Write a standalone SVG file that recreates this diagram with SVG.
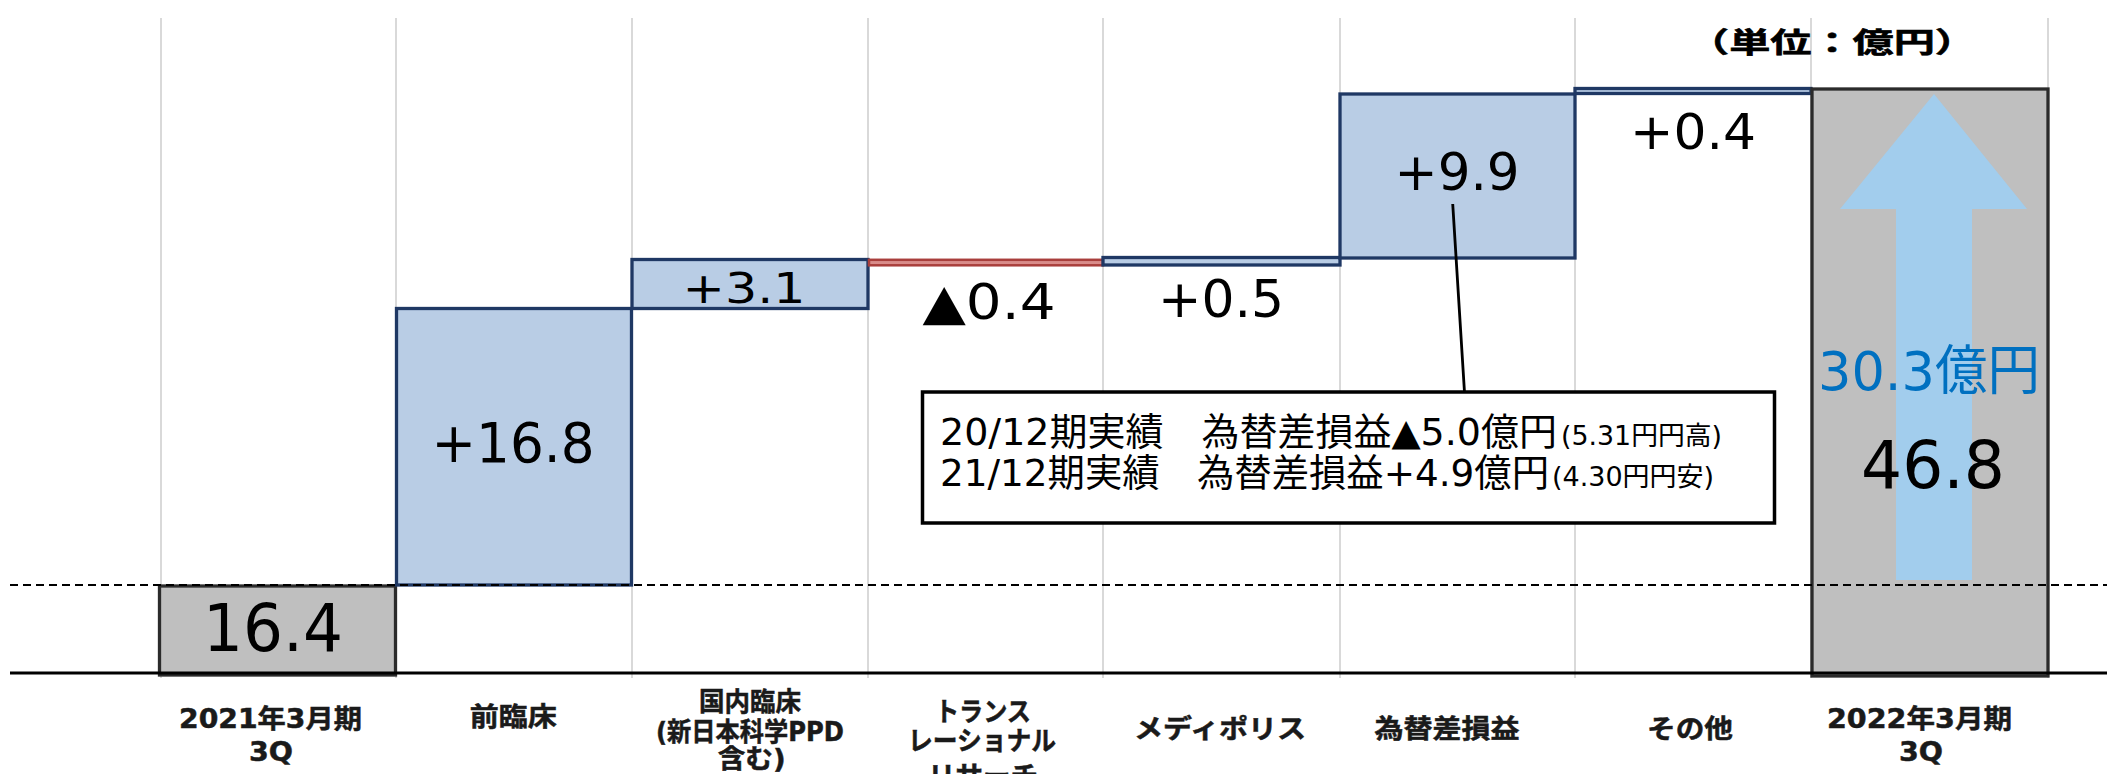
<svg xmlns="http://www.w3.org/2000/svg" width="2107" height="774" viewBox="0 0 2107 774">
<style>
.grid{stroke:#D9D9D9;stroke-width:2}
.blue{fill:#B9CDE5;stroke:#1F3864;stroke-width:3.3}
.gray{fill:#BFBFBF;stroke:#2B2B2B;stroke-width:3.3}
.num{font-family:"DejaVu Sans","Noto Sans CJK JP",sans-serif;fill:#000;text-anchor:middle}
.lbl{font-family:"DejaVu Sans","Noto Sans CJK JP",sans-serif;font-weight:bold;font-size:26.5px;fill:#1A1A1A;stroke:#1A1A1A;stroke-width:0.5;text-anchor:middle}
.note{font-family:"DejaVu Sans","Noto Sans CJK JP",sans-serif;fill:#000}
</style>
<rect width="2107" height="774" fill="#FFFFFF"/>
<g id="gridlines">
<line class="grid" x1="161" y1="18" x2="161" y2="678"/>
<line class="grid" x1="396" y1="18" x2="396" y2="678"/>
<line class="grid" x1="632" y1="18" x2="632" y2="678"/>
<line class="grid" x1="868" y1="18" x2="868" y2="678"/>
<line class="grid" x1="1103" y1="18" x2="1103" y2="678"/>
<line class="grid" x1="1340" y1="18" x2="1340" y2="678"/>
<line class="grid" x1="1575" y1="18" x2="1575" y2="678"/>
<line class="grid" x1="1811" y1="18" x2="1811" y2="678"/>
<line class="grid" x1="2048" y1="18" x2="2048" y2="678"/>
</g>
<g id="bar-start">
<rect class="gray" x="159.5" y="586" width="236" height="89"/>
<text class="num" x="273" y="651" font-size="66" textLength="140" lengthAdjust="spacingAndGlyphs">16.4</text>
</g>
<g id="bar-preclinical">
<rect class="blue" x="396.5" y="308.5" width="235" height="276.5"/>
<text class="num" x="513" y="462" font-size="56" textLength="163" lengthAdjust="spacingAndGlyphs">+16.8</text>
</g>
<g id="bar-domestic">
<rect class="blue" x="632" y="259.5" width="236" height="49"/>
<text class="num" x="744" y="302.5" font-size="42" textLength="123" lengthAdjust="spacingAndGlyphs">+3.1</text>
</g>
<g id="bar-translational">
<rect x="869" y="259.8" width="234" height="5.5" fill="#D98C8A" stroke="#A93F3C" stroke-width="2.5"/>
<text class="num" x="989" y="319" font-size="50" textLength="133" lengthAdjust="spacingAndGlyphs">▲0.4</text>
</g>
<g id="bar-medipolis">
<rect class="blue" x="1103" y="257.5" width="237" height="7.5"/>
<text class="num" x="1221" y="316.5" font-size="52" textLength="126" lengthAdjust="spacingAndGlyphs">+0.5</text>
</g>
<g id="bar-fx">
<rect class="blue" x="1340" y="94" width="235" height="164"/>
<text class="num" x="1457" y="190" font-size="52" textLength="125" lengthAdjust="spacingAndGlyphs">+9.9</text>
</g>
<g id="bar-other">
<rect class="blue" x="1575" y="88.5" width="236" height="5"/>
<text class="num" x="1693" y="149" font-size="50" textLength="126" lengthAdjust="spacingAndGlyphs">+0.4</text>
</g>
<g id="bar-end">
<rect class="gray" x="1812" y="89" width="236" height="587"/>
<polygon points="1934,94 2027,209 1972,209 1972,580 1896,580 1896,209 1840,209" fill="#A2CDED"/>
<text class="num" x="1929" y="390" font-size="54" style="fill:#0070C0" textLength="222" lengthAdjust="spacingAndGlyphs">30.3億円</text>
<text class="num" x="1933" y="488" font-size="66" textLength="144" lengthAdjust="spacingAndGlyphs">46.8</text>
</g>
<g id="axes">
<line x1="10" y1="585" x2="2107" y2="585" stroke="#000" stroke-width="2" stroke-dasharray="8 5"/>
<line x1="10" y1="673" x2="2107" y2="673" stroke="#000" stroke-width="3"/>
</g>
<g id="connectors">
<line x1="1452.7" y1="204" x2="1464.5" y2="392" stroke="#000" stroke-width="2.8"/>
</g>
<g id="note-box">
<rect x="922.5" y="392" width="852" height="131" fill="#FFFFFF" stroke="#000" stroke-width="3.5"/>
<text class="note" x="940" y="445" font-size="37.5" textLength="617" lengthAdjust="spacingAndGlyphs">20/12期実績　為替差損益▲5.0億円</text>
<text class="note" x="1561" y="445" font-size="26.5" textLength="161" lengthAdjust="spacingAndGlyphs">(5.31円円高)</text>
<text class="note" x="940" y="486" font-size="37.5" textLength="609" lengthAdjust="spacingAndGlyphs">21/12期実績　為替差損益+4.9億円</text>
<text class="note" x="1552" y="486" font-size="26.5" textLength="162" lengthAdjust="spacingAndGlyphs">(4.30円円安)</text>
</g>
<g id="unit-label">
<text x="1832" y="53" font-family="Noto Sans CJK JP,sans-serif" font-weight="bold" font-size="28" fill="#000" stroke="#000" stroke-width="0.6" text-anchor="middle" textLength="288" lengthAdjust="spacingAndGlyphs">（単位：億円）</text>
</g>
<g id="category-labels">
<text class="lbl" x="270.5" y="728" textLength="183" lengthAdjust="spacingAndGlyphs">2021年3月期</text>
<text class="lbl" x="271" y="761" textLength="44" lengthAdjust="spacingAndGlyphs">3Q</text>
<text class="lbl" x="513.3" y="726" textLength="87" lengthAdjust="spacingAndGlyphs">前臨床</text>
<text class="lbl" x="750" y="711" textLength="102" lengthAdjust="spacingAndGlyphs">国内臨床</text>
<text class="lbl" x="750" y="741" textLength="188" lengthAdjust="spacingAndGlyphs">(新日本科学PPD</text>
<text class="lbl" x="751.7" y="768" textLength="68" lengthAdjust="spacingAndGlyphs">含む)</text>
<text class="lbl" x="983" y="721" textLength="96" lengthAdjust="spacingAndGlyphs">トランス</text>
<text class="lbl" x="982" y="750" textLength="148" lengthAdjust="spacingAndGlyphs">レーショナル</text>
<text class="lbl" x="983" y="785" textLength="110" lengthAdjust="spacingAndGlyphs">リサーチ</text>
<text class="lbl" x="1220" y="738" textLength="172" lengthAdjust="spacingAndGlyphs">メディポリス</text>
<text class="lbl" x="1447" y="738" textLength="145" lengthAdjust="spacingAndGlyphs">為替差損益</text>
<text class="lbl" x="1690" y="738" textLength="86" lengthAdjust="spacingAndGlyphs">その他</text>
<text class="lbl" x="1919.5" y="728" textLength="185" lengthAdjust="spacingAndGlyphs">2022年3月期</text>
<text class="lbl" x="1921" y="761" textLength="44" lengthAdjust="spacingAndGlyphs">3Q</text>
</g>
</svg>
